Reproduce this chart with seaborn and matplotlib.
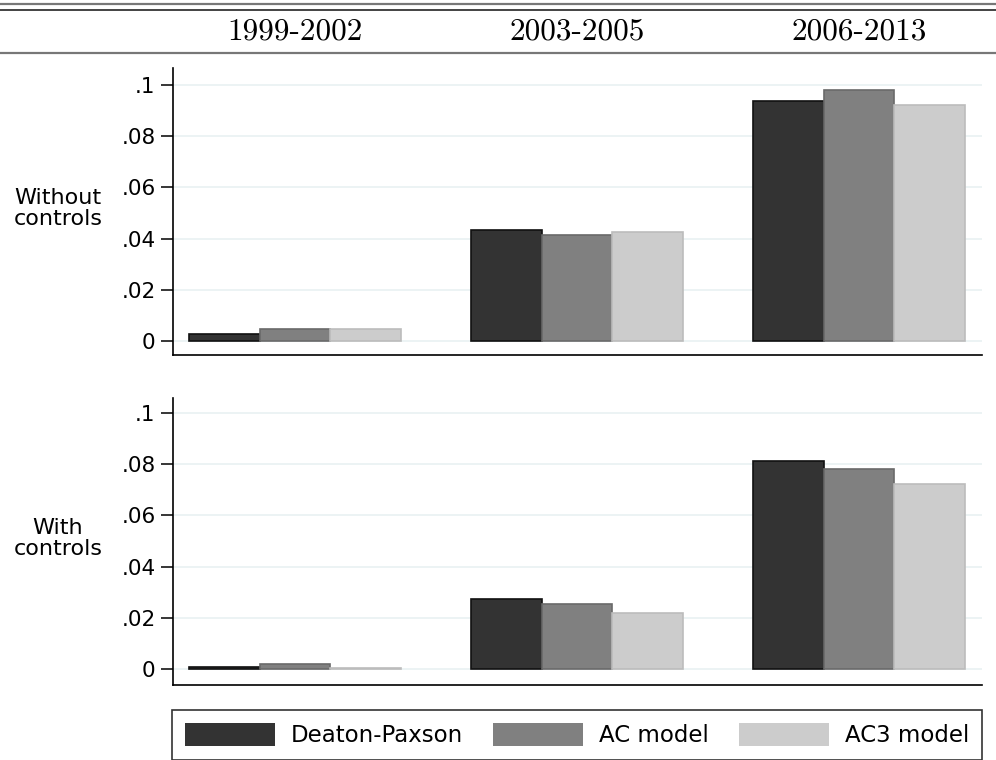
import matplotlib
matplotlib.use("Agg")
import matplotlib.pyplot as plt
from matplotlib.lines import Line2D
from matplotlib.patches import Patch
import seaborn as sns
import pandas as pd

# ---- data ----
periods = ["1999-2002", "2003-2005", "2006-2013"]
models = ["Deaton-Paxson", "AC model", "AC3 model"]
without_dp = [0.0027, 0.0434, 0.0939]
without_ac = [0.0048, 0.0415, 0.0980]
without_ac3 = [0.0048, 0.0427, 0.0921]
with_dp = [0.0007, 0.0272, 0.0813]
with_ac = [0.0020, 0.0255, 0.0782]
with_ac3 = [0.0003, 0.0220, 0.0724]
row_labels = ["Without\ncontrols", "With\ncontrols"]
tick_vals = [0, 0.02, 0.04, 0.06, 0.08, 0.1]
tick_labels = ["0", ".02", ".04", ".06", ".08", ".1"]

colors = ["#333333", "#808080", "#cccccc"]
edges = ["#111111", "#6a6a6a", "#bcbcbc"]


def long_df(dp, ac, ac3):
    rows = []
    for m, vals in zip(models, [dp, ac, ac3]):
        for p, v in zip(periods, vals):
            rows.append({"period": p, "model": m, "value": v})
    return pd.DataFrame(rows)


sns.set_style("white")
plt.rcParams["font.family"] = ["DejaVu Sans"]
plt.rcParams["text.color"] = "black"
plt.rcParams["ytick.color"] = "black"
plt.rcParams["xtick.color"] = "black"
plt.rcParams["axes.labelcolor"] = "black"

W, H = 996, 760
fig = plt.figure(figsize=(W / 100, H / 100), dpi=100)

panels = [
    (long_df(without_dp, without_ac, without_ac3), 68, 355, 341, 85),
    (long_df(with_dp, with_ac, with_ac3), 398, 685, 669, 413),
]

x_left, x_right = 173, 982
c0, step = 295, 282

for (df, top_px, bot_px, zero_px, tenth_px), lab in zip(panels, row_labels):
    ax = fig.add_axes([x_left / W, 1 - bot_px / H, (x_right - x_left) / W,
                       (bot_px - top_px) / H])
    sns.barplot(data=df, x="period", y="value", hue="model", order=periods,
                hue_order=models, palette=colors, width=0.75, saturation=1,
                ax=ax, legend=False, errorbar=None)
    for cont, ec in zip(ax.containers, edges):
        for bar in cont:
            bar.set_edgecolor(ec)
            bar.set_linewidth(1.2)
    ppu = (zero_px - tenth_px) / 0.1
    ax.set_ylim(-(bot_px - zero_px) / ppu, 0.1 + (tenth_px - top_px) / ppu)
    ax.set_xlim((x_left - c0) / step, (x_right - c0) / step)
    ax.set_yticks(tick_vals)
    ax.set_yticklabels(tick_labels, fontsize=15.5, color="black")
    ax.set_xticks([])
    ax.set_xlabel("")
    ax.set_ylabel("")
    ax.yaxis.grid(True, color="#eaf2f3", linewidth=1.3)
    ax.set_axisbelow(True)
    for s in ["top", "right"]:
        ax.spines[s].set_visible(False)
    for s in ["left", "bottom"]:
        ax.spines[s].set_color("black")
        ax.spines[s].set_linewidth(1.2)
    ax.tick_params(axis="y", direction="out", length=8.5, width=1.1,
                   color="black", pad=4, left=True)
    fig.text(58 / W, 1 - ((top_px + bot_px) / 2 - 3) / H, lab, ha="center",
             va="center", fontsize=16, linespacing=1.1, color="black")

# header
for y, col, lw in [(3.5, "#777777", 1.6), (10, "#111111", 1.1), (53, "#777777", 1.6)]:
    fig.add_artist(Line2D([0, 1], [1 - y / H, 1 - y / H], transform=fig.transFigure,
                          color=col, linewidth=lw))
for i, p in enumerate(periods):
    fig.text((c0 + i * step) / W, 1 - 32 / H, p, ha="center", va="center",
             fontsize=22.5, family="cmr10", color="black")

# legend
handles = [Patch(facecolor=c, edgecolor=c, linewidth=0) for c in colors]
fs = 16.5
leg = fig.legend(handles, models, loc="upper left", ncol=3,
                 bbox_to_anchor=(172 / W, 0, 810 / W, 1 - 710 / H),
                 mode="expand", fontsize=fs, frameon=True, fancybox=False,
                 handlelength=3.95, handleheight=1.18, handletextpad=0.7,
                 borderpad=0.55, borderaxespad=0, columnspacing=1.0,
                 labelcolor="black")
leg.get_frame().set_edgecolor("black")
leg.get_frame().set_linewidth(1.2)

fig.savefig("out.png", dpi=100)
